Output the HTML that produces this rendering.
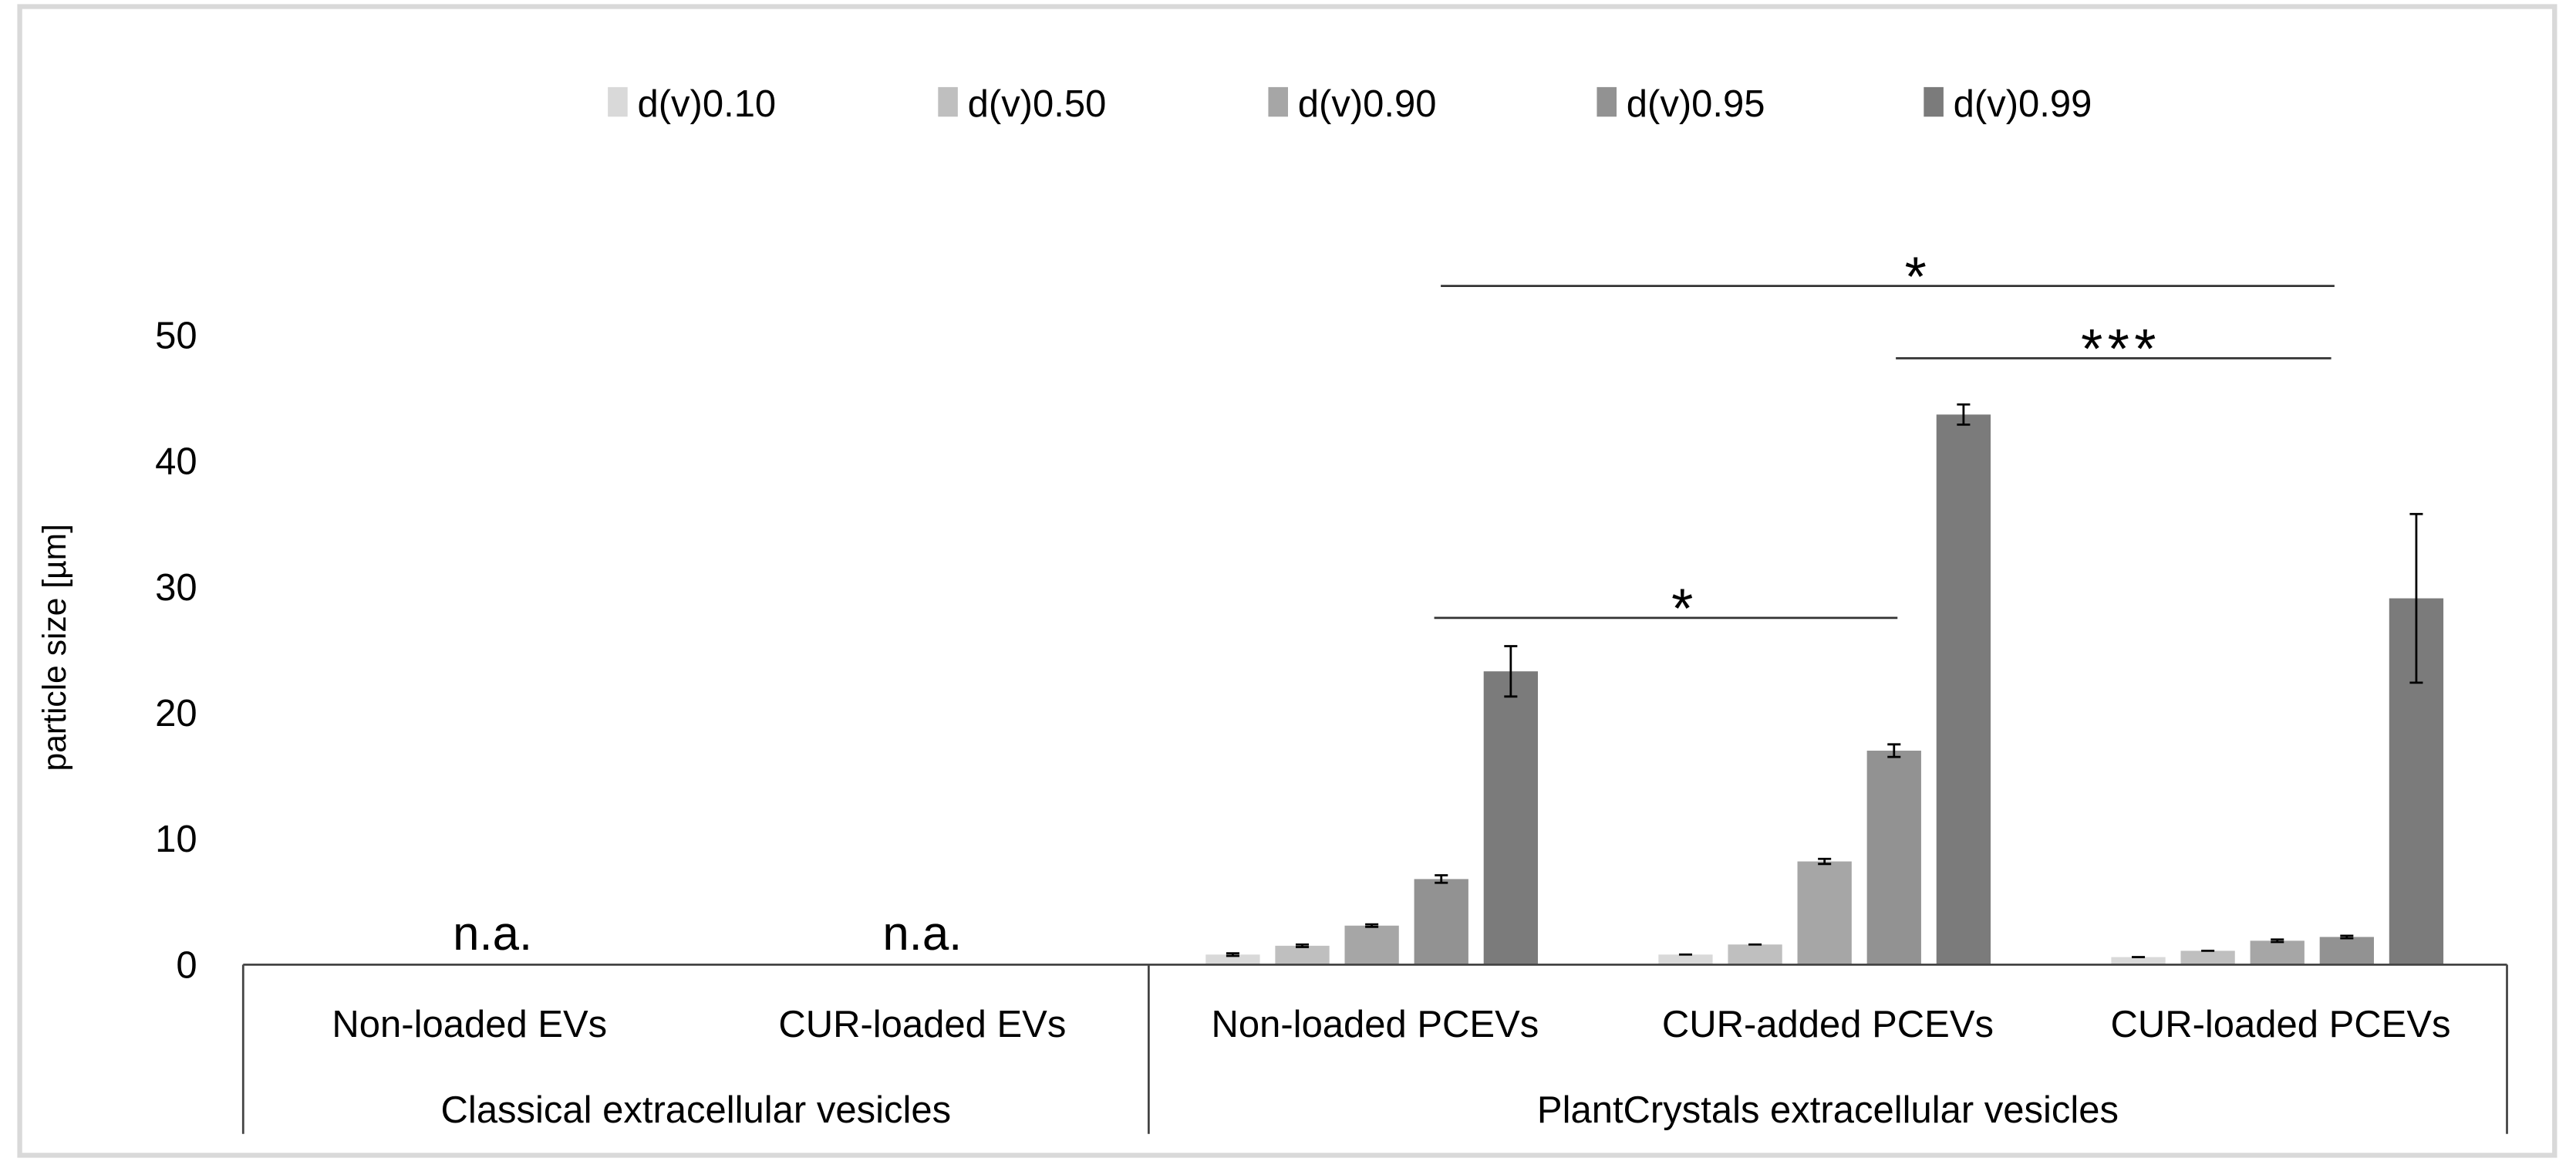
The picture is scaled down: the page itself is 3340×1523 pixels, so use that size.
<!DOCTYPE html>
<html><head><meta charset="utf-8"><style>
html,body{margin:0;padding:0;background:#fff;}
svg{display:block;font-family:"Liberation Sans",sans-serif;}
</style></head><body>
<svg id="chart" width="3340" height="1523" viewBox="0 0 1568 715">
<rect x="12" y="4" width="1543" height="699" fill="#fff" stroke="#d9d9d9" stroke-width="3"/>
<g id="legend"></g>
<g id="axis"></g>
<text transform="translate(40,394) rotate(-90)" text-anchor="middle" font-size="20">particle size [µm]</text>
<g id="bars"></g>
<g id="table"></g>
<g id="sig"></g>
</svg>
<script>
const categories = ["Non-loaded EVs","CUR-loaded EVs","Non-loaded PCEVs","CUR-added PCEVs","CUR-loaded PCEVs"];
const groups = ["Classical extracellular vesicles","PlantCrystals extracellular vesicles"];
const seriesNames = ["d(v)0.10","d(v)0.50","d(v)0.90","d(v)0.95","d(v)0.99"];
const seriesColors = ["#d9d9d9","#bfbfbf","#a6a6a6","#929292","#7b7b7b"];
const d10 = [null,null,0.8,0.8,0.6];
const d50 = [null,null,1.5,1.6,1.1];
const d90 = [null,null,3.1,8.2,1.9];
const d95 = [null,null,6.8,17.0,2.2];
const d99 = [null,null,23.3,43.7,29.1];
const e10 = [0,0,0.1,0,0];
const e50 = [0,0,0.1,0,0];
const e90 = [0,0,0.1,0.2,0.1];
const e95 = [0,0,0.3,0.5,0.1];
const e99 = [0,0,2.0,0.8,6.7];
const yTicks = [0,10,20,30,40,50];

const NS="http://www.w3.org/2000/svg";
const L=148,R=1526,BASE=587,PX10=76.6;
const y=v=>BASE-v*PX10/10;
const cw=(R-L)/categories.length;
const cx=i=>L+cw*(i+0.5);
const bx=(i,s)=>cx(i)-2+(s-2)*42.3;
function mk(tag,attrs,parent,txt){const e=document.createElementNS(NS,tag);for(const k in attrs)e.setAttribute(k,attrs[k]);if(txt!==undefined)e.textContent=txt;parent.appendChild(e);return e;}

const ax=document.getElementById('axis');
yTicks.forEach(t=>{const e=mk('text',{x:120,y:y(t)+8,'text-anchor':'end','font-size':23},ax,String(t));

});

const lg=document.getElementById('legend');
const lx=[370,571,772,972,1171];
seriesNames.forEach((n,s)=>{
const r=mk('rect',{x:lx[s],y:53,width:12,height:18,fill:seriesColors[s]},lg);


const t=mk('text',{x:lx[s]+18,y:71,'font-size':23},lg,n);

});

const vals=[d10,d50,d90,d95,d99],errs=[e10,e50,e90,e95,e99];
const bg=document.getElementById('bars');
categories.forEach((c,i)=>{
vals.forEach((arr,s)=>{const v=arr[i];if(v==null)return;
const x=bx(i,s);
const r=mk('rect',{x:x-16.5,y:y(v),width:33,height:BASE-y(v),fill:seriesColors[s]},bg);


const e=errs[s][i];
const p=mk('path',{d:`M${x} ${y(v+e)}V${y(v-e)}M${x-4} ${y(v+e)}H${x+4}M${x-4} ${y(v-e)}H${x+4}`,stroke:'#000','stroke-width':1.3,fill:'none'},bg);

});
if(d99[i]==null){const t=mk('text',{x:cx(i)+(i===0?14:0),y:578,'text-anchor':'middle','font-size':29},bg,'n.a.');

}
});

const tb=document.getElementById('table');
const tl=mk('path',{d:`M${L} ${BASE}H${R}M${L} ${BASE}V690M${R} ${BASE}V690M${L+cw*2} ${BASE}V690`,stroke:'#444','stroke-width':1.3,fill:'none'},tb);


categories.forEach((c,i)=>{const t=mk('text',{x:cx(i),y:631,'text-anchor':'middle','font-size':23},tb,c);

});
[[0,2],[2,5]].forEach((g,k)=>{const t=mk('text',{x:L+cw*(g[0]+g[1])/2,y:683,'text-anchor':'middle','font-size':23},tb,groups[k]);

});

const sg=document.getElementById('sig');
[[877,1421,174,'*',1166],[1154,1419,218,'***',1291],[873,1155,376,'*',1024]].forEach(a=>{
const l=mk('line',{x1:a[0],x2:a[1],y1:a[2],y2:a[2],stroke:'#333','stroke-width':1.3},sg);


const t=mk('text',{x:a[4],y:a[2]+6,'text-anchor':'middle','font-size':34,'letter-spacing':a[3].length>1?3:0},sg,a[3]);

});
</script>
</body></html>
